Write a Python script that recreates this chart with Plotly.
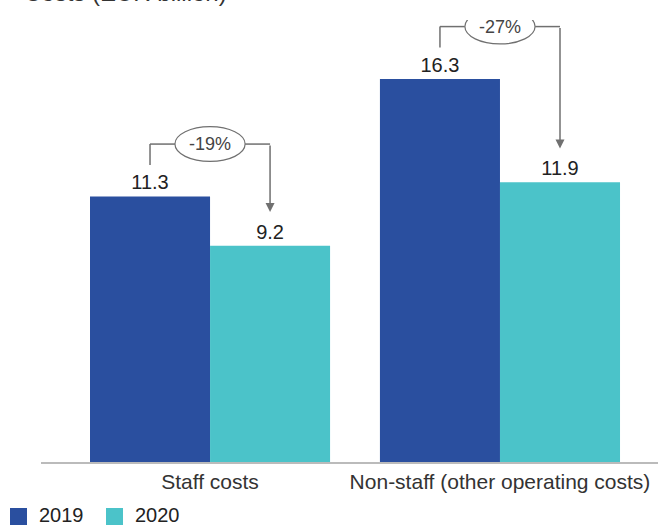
import plotly.graph_objects as go

categories = ["Staff costs", "Non-staff (other operating costs)"]
values_2019 = [11.3, 16.3]
values_2020 = [9.2, 11.9]
changes = ["-19%", "-27%"]
series_names = ["2019", "2020"]
title_text = "Costs (EUR billion)"

C2019 = "#2A4F9F"
C2020 = "#4BC3C9"
GRAY = "#707070"
FONT = "Liberation Sans, Arial, sans-serif"

W, H = 659, 526
ML, MR, MT, MB = 41, 1, 20, 64
PW, PH = W - ML - MR, H - MT - MB

def px_x(p):
    return (p - ML) / PW

def px_y(p):
    return (H - MB - p) / PH

fig = go.Figure()
colors = [C2019, C2020]
for name, vals, col in zip(series_names, [values_2019, values_2020], colors):
    fig.add_trace(go.Bar(x=[0, 1], y=vals, name=name, marker_color=col, marker_line_width=0,
                         text=[f"{v:.1f}" for v in vals], textposition="outside",
                         textfont=dict(size=20, color="#222222", family=FONT), cliponaxis=False,
                         showlegend=False))

off = 0.207
for i in range(len(categories)):
    a, b = values_2019[i], values_2020[i]
    top = a + 2.23
    x1, x2 = i - off, i + off
    ew = 0.121
    fig.add_shape(type="line", x0=x1, x1=x1, y0=a + 1.34, y1=top, line=dict(color=GRAY, width=1.5))
    fig.add_shape(type="line", x0=x1, x1=i - ew, y0=top, y1=top, line=dict(color=GRAY, width=1.5))
    fig.add_shape(type="line", x0=i + ew, x1=x2, y0=top, y1=top, line=dict(color=GRAY, width=1.5))
    fig.add_shape(type="circle", x0=i - ew, x1=i + ew, y0=top - 0.74, y1=top + 0.74,
                  line=dict(color=GRAY, width=1.2), fillcolor="white")
    fig.add_annotation(x=i, y=top, text=changes[i], showarrow=False,
                       font=dict(size=18, color="#444444", family=FONT))
    fig.add_annotation(x=x2, y=b + 1.44, ax=x2, ay=top, axref="x", ayref="y", xref="x", yref="y",
                       text="", showarrow=True, arrowhead=2, arrowsize=1.2, arrowwidth=1.5,
                       arrowcolor=GRAY, standoff=0)

# title (cut at top edge as in the source)
fig.add_annotation(xref="paper", yref="paper", x=px_x(22), y=px_y(-8), xanchor="left", yanchor="middle",
                   text=title_text, showarrow=False, font=dict(size=24, color="#333333", family=FONT))

# legend drawn as swatches + labels
leg_x = [10, 106]
for lx, name, col in zip(leg_x, series_names, colors):
    fig.add_shape(type="rect", xref="paper", yref="paper", x0=px_x(lx), x1=px_x(lx + 17),
                  y0=px_y(525), y1=px_y(508), fillcolor=col, line_width=0)
    fig.add_annotation(xref="paper", yref="paper", x=px_x(lx + 27), y=px_y(515), xanchor="left",
                       yanchor="middle", text=name, showarrow=False,
                       font=dict(size=20, color="#222222", family=FONT))

fig.update_layout(
    width=W, height=H,
    margin=dict(l=ML, r=MR, t=MT, b=MB),
    paper_bgcolor="white", plot_bgcolor="white",
    barmode="group", bargap=0.172, bargroupgap=0,
    font=dict(family=FONT, color="#333333"),
    showlegend=False,
    xaxis=dict(tickmode="array", tickvals=[0, 1], ticktext=categories, range=[-0.583, 1.545],
               showline=True, linecolor="#BBBBBB", linewidth=2, showgrid=False, zeroline=False,
               ticks="", tickfont=dict(size=21, color="#333333", family=FONT)),
    yaxis=dict(range=[0, 18.81], visible=False, showgrid=False, zeroline=False),
)

fig.write_html("out.html")
